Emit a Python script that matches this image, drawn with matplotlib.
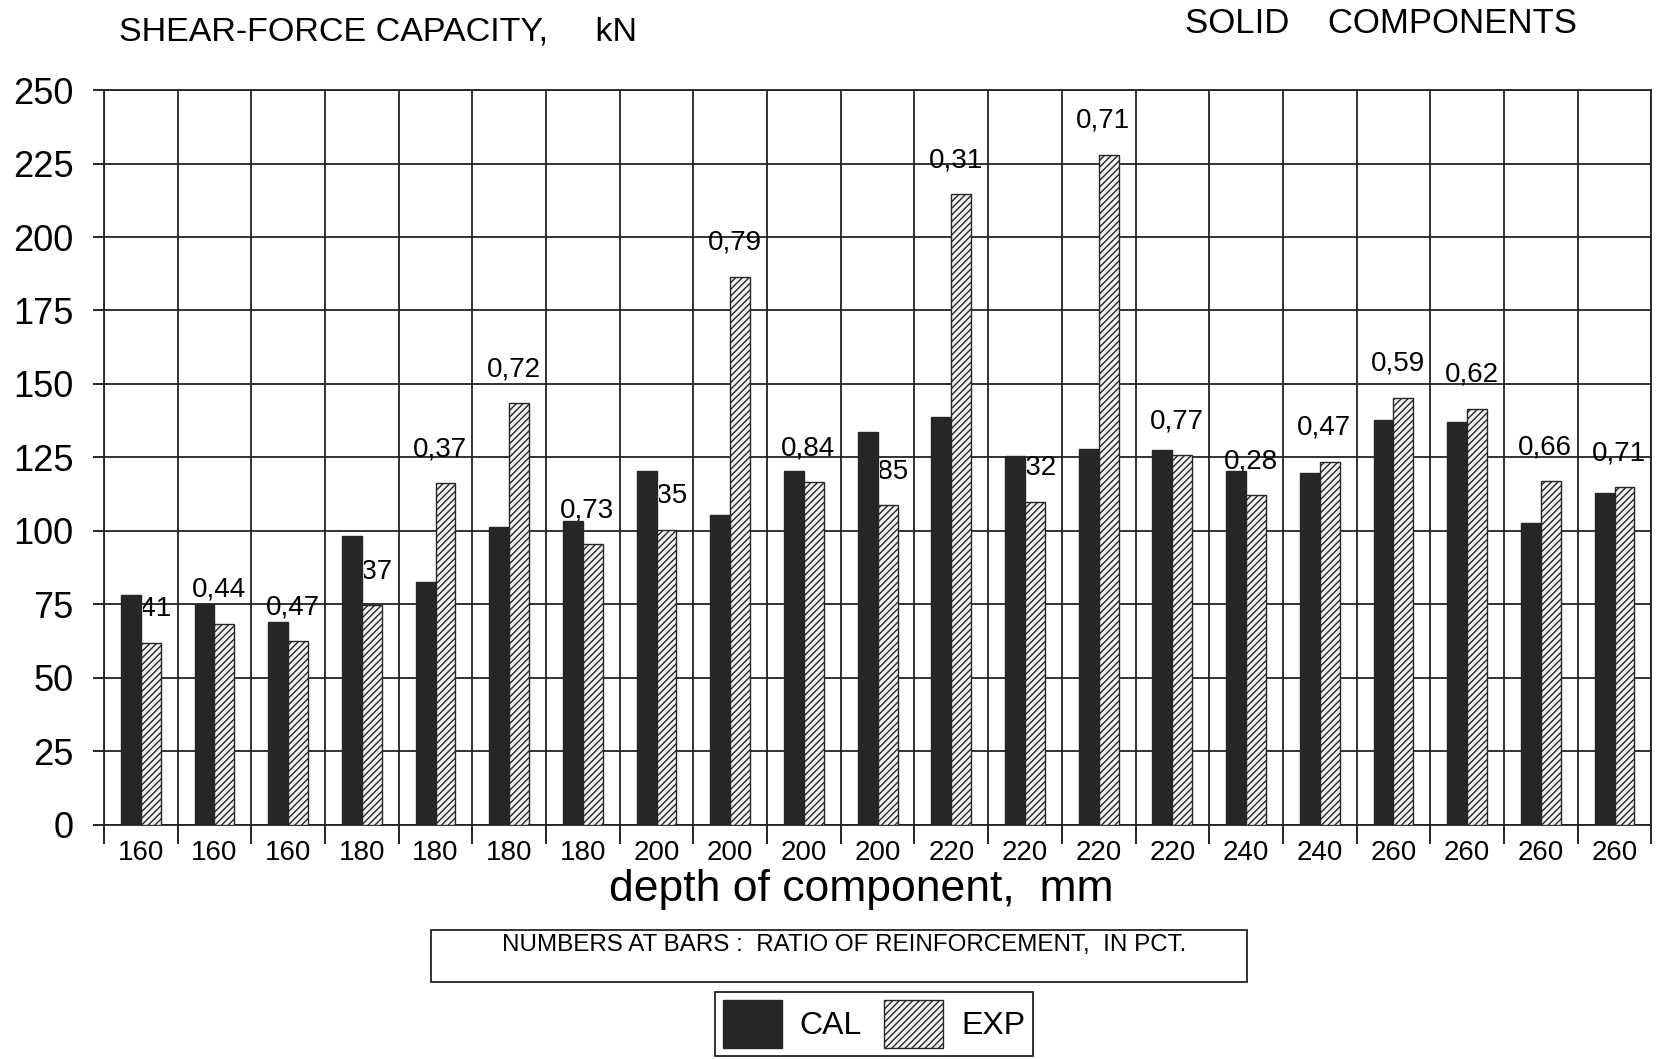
import numpy as np
import matplotlib.pyplot as plt
from matplotlib.patches import Rectangle, Patch
from matplotlib.transforms import Bbox, TransformedBbox

plt.rcParams['font.family'] = ['Liberation Sans', 'DejaVu Sans']
plt.rcParams['hatch.linewidth'] = 1.0

depth = ['160', '160', '160', '180', '180', '180', '180', '200', '200', '200', '200',
         '220', '220', '220', '220', '240', '240', '260', '260', '260', '260']
cal = [78.3, 75, 69, 98.3, 82.8, 101.3, 103.5, 120.5, 105.4, 120.5, 133.5, 138.8, 125.6, 128,
       127.5, 120.4, 119.6, 137.7, 137.2, 102.6, 112.8]
exp = [62, 68.5, 62.5, 74.8, 116.3, 143.5, 95.5, 100.5, 186.5, 116.5, 108.7, 214.5, 110, 228,
       125.8, 112.3, 123.6, 145.4, 141.6, 117, 114.8]
ratio = ['0,41', '0,44', '0,47', '0,37', '0,37', '0,72', '0,73', '0,35', '0,79', '0,84', '0,85',
         '0,31', '0,32', '0,71', '0,77', '0,28', '0,47', '0,59', '0,62', '0,66', '0,71']

dark = '#262626'
fig = plt.figure(figsize=(16.63, 10.59), dpi=100)
ax = fig.add_axes([0.0625, 0.221, 0.9305, 0.694])

x = np.arange(len(depth))
w = 0.27
ax.bar(x - w / 2, cal, w, color=dark, edgecolor=dark, zorder=3)
ax.bar(x + w / 2, exp, w, color='#f2f2f2', edgecolor=dark, hatch='/////', linewidth=1, zorder=3)

# ratio labels sit a bit above the EXP bar; where the CAL bar is taller,
# it hides the left part of the label (as in the original)
for i in range(len(x)):
    ly = exp[i] + 11.5
    t = ax.text(x[i] + 0.06, ly, ratio[i], ha='center', va='center',
                fontsize=20, zorder=2.5)
    if cal[i] > ly:
        t.set_clip_box(TransformedBbox(Bbox([[x[i] + 0.03, 0], [x[i] + 1, 300]]), ax.transData))
        t.set_clip_on(True)

ax.set_xlim(-0.5, len(x) - 0.5)
ax.set_ylim(0, 250)
ax.set_yticks(np.arange(0, 251, 25))
ax.set_xticks(x)
ax.set_xticklabels(depth, fontsize=20)
ax.set_xticks(np.arange(-0.5, len(x)), minor=True)
ax.tick_params(axis='x', which='major', length=0, pad=11)
ax.tick_params(axis='x', which='minor', length=14, width=1.2, direction='out')
ax.tick_params(axis='y', labelsize=26, length=8, width=1.2, pad=14)
ax.grid(axis='y', color='#222222', linewidth=1.3)
ax.grid(axis='x', which='minor', color='#222222', linewidth=1.3)
ax.set_axisbelow(True)
for s in ax.spines.values():
    s.set_linewidth(1.3)
    s.set_color('#222222')

fig.text(0.0715, 0.970, 'SHEAR-FORCE CAPACITY,     kN', fontsize=24.5, va='center')
fig.text(0.7125, 0.978, 'SOLID    COMPONENTS', fontsize=25, va='center')
fig.text(0.518, 0.160, 'depth of component,  mm', ha='center', va='center', fontsize=32)

fig.patches.append(Rectangle((0.259, 0.0727), 0.491, 0.0491, transform=fig.transFigure,
                             fill=False, edgecolor='#222222', linewidth=1.3))
fig.text(0.5076, 0.1077, 'NUMBERS AT BARS :  RATIO OF REINFORCEMENT,  IN PCT.',
         ha='center', va='center', fontsize=17.4)

handles = [Patch(facecolor=dark, edgecolor=dark),
           Patch(facecolor='#f2f2f2', edgecolor=dark, hatch='/////')]
leg = fig.legend(handles, ['CAL', 'EXP'], ncol=2, loc='lower center',
                 bbox_to_anchor=(0.5255, -0.012), fontsize=23, handlelength=1.85,
                 handleheight=1.9, handletextpad=0.55, columnspacing=0.7,
                 borderpad=0.25, fancybox=False, framealpha=1, edgecolor='#222222')
leg.get_frame().set_linewidth(1.3)

fig.savefig('out.png', dpi=100)
